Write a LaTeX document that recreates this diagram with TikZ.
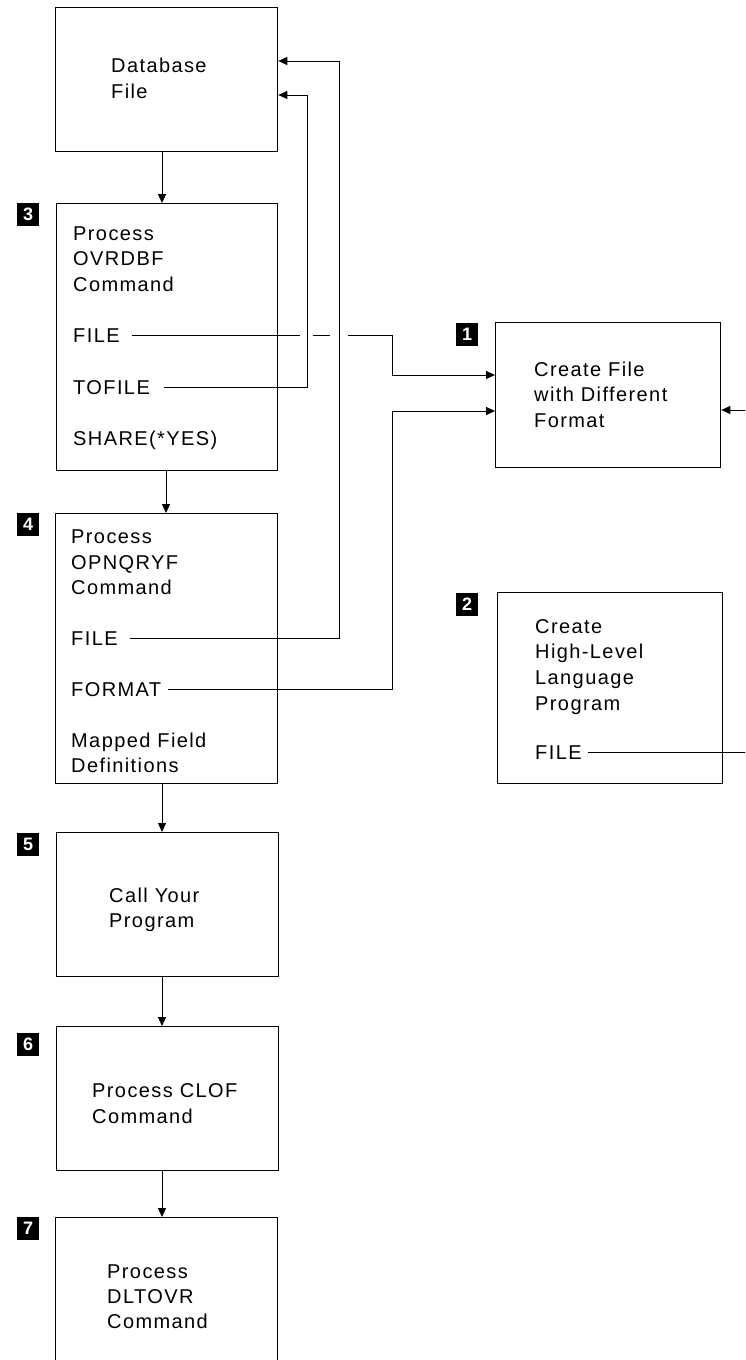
\documentclass[tikz,border=0pt]{standalone}
\usepackage{fontspec}
\setmainfont{Liberation Sans}[LetterSpace=7]
\newfontfamily\badgefont{Liberation Sans}
\usetikzlibrary{arrows.meta}
\begin{document}
\begin{tikzpicture}[x=1pt,y=-1pt,
  box/.style={draw, line width=1.3pt, anchor=north west, inner sep=0pt},
  txt/.style={anchor=base west, inner sep=0pt, text height=14pt, text depth=0pt,
              font=\fontsize{20pt}{25pt}\selectfont},
  badge/.style={fill=black, text=white, anchor=north west, minimum width=22pt,
                minimum height=23pt, inner sep=0pt,
                font=\badgefont\bfseries\fontsize{18pt}{18pt}\selectfont},
  conn/.style={line width=1pt},
  arr/.style={conn, -{Triangle[length=9pt,width=8pt]}},
]
\useasboundingbox (0,0) rectangle (745,1360);
\clip (0,0) rectangle (745,1360);

% ---- boxes ----
\node[box, minimum width=222pt, minimum height=144pt] (db) at (55,7) {};
\node[box, minimum width=221pt, minimum height=267pt] (b3) at (56,203) {};
\node[box, minimum width=222pt, minimum height=270pt] (b4) at (55,513) {};
\node[box, minimum width=222pt, minimum height=144pt] (b5) at (56,832) {};
\node[box, minimum width=222pt, minimum height=144pt] (b6) at (56,1026) {};
\node[box, minimum width=222pt, minimum height=175pt] (b7) at (55,1217) {};
\node[box, minimum width=225pt, minimum height=145pt] (b1) at (495,322) {};
\node[box, minimum width=225pt, minimum height=191pt] (b2) at (497,592) {};

% ---- step numbers ----
\node[badge] (n3) at (17,203) {3};
\node[badge] (n4) at (17,513) {4};
\node[badge] (n5) at (17,833) {5};
\node[badge] (n6) at (17,1033) {6};
\node[badge] (n7) at (17,1217) {7};
\node[badge] (n1) at (456,323) {1};
\node[badge] (n2) at (456,593) {2};

% ---- texts ----
\node[txt] (dba) at (111,72) {Database};
\node[txt] (dbb) at (111,98) {File};

\node[txt] (p3a) at (73,240) {Process};
\node[txt] (p3b) at (73,265) {OVRDBF};
\node[txt] (p3c) at (73,291) {Command};
\node[txt] (f3) at (73,342) {FILE};
\node[txt] (t3) at (73,394) {TOFILE};
\node[txt] (s3) at (73,445) {SHARE(*YES)};

\node[txt] (p4a) at (71,543) {Process};
\node[txt] (p4b) at (71,569) {OPNQRYF};
\node[txt] (p4c) at (71,594) {Command};
\node[txt] (f4) at (71,645) {FILE};
\node[txt] (fm4) at (71,696) {FORMAT};
\node[txt] (m4a) at (71,747) {Mapped Field};
\node[txt] (m4b) at (71,772) {Definitions};

\node[txt] (c1a) at (534,376) {Create File};
\node[txt] (c1b) at (534,401) {with Different};
\node[txt] (c1c) at (534,427) {Format};

\node[txt] (c2a) at (535,633) {Create};
\node[txt] (c2b) at (535,658) {High-Level};
\node[txt] (c2c) at (535,684) {Language};
\node[txt] (c2d) at (535,710) {Program};
\node[txt] (f2) at (535,759) {FILE};

\node[txt] (c5a) at (109,902) {Call Your};
\node[txt] (c5b) at (109,927) {Program};

\node[txt] (c6a) at (92,1097) {Process CLOF};
\node[txt] (c6b) at (92,1123) {Command};

\node[txt] (c7a) at (107,1278) {Process};
\node[txt] (c7b) at (107,1303) {DLTOVR};
\node[txt] (c7c) at (107,1328) {Command};

% ---- flow down the left column ----
\coordinate (va) at (162,0);
\coordinate (vb) at (166,0);
\draw[arr] (db.south -| va) -- (b3.north -| va);
\draw[arr] (b3.south -| vb) -- (b4.north -| vb);
\draw[arr] (b4.south -| va) -- (b5.north -| va);
\draw[arr] (b5.south -| va) -- (b6.north -| va);
\draw[arr] (b6.south -| va) -- (b7.north -| va);

% ---- bend points of the parameter lines ----
\coordinate (r1) at (307,95);
\coordinate (r2) at (339,61);
\coordinate (r3) at (392,375);
\coordinate (r4) at (392,411);
\coordinate (r5) at (760,410);
% breaks where the OVRDBF FILE line passes the two verticals
\coordinate (g1) at (300,0);
\coordinate (g2) at (313,0);
\coordinate (g3) at (330,0);
\coordinate (g4) at (348,0);

% TOFILE and OPNQRYF FILE back to the database file
\draw[arr] ([xshift=14pt]t3.east) -| (r1) -- (db.east |- r1);
\draw[arr] ([xshift=12pt]f4.east) -| (r2) -- (db.east |- r2);

% OVRDBF FILE to the new file
\draw[conn] ([xshift=12pt]f3.east) -- (f3.east -| g1);
\draw[conn] (f3.east -| g2) -- (f3.east -| g3);
\draw[arr] (f3.east -| g4) -| (r3) -- (b1.west |- r3);

% FORMAT to the new file
\draw[arr] ([xshift=7pt]fm4.east) -| (r4) -- (b1.west |- r4);

% program FILE to the new file
\draw[arr] ([xshift=6pt]f2.east) -| (r5) -- (b1.east |- r5);
\end{tikzpicture}
\end{document}
